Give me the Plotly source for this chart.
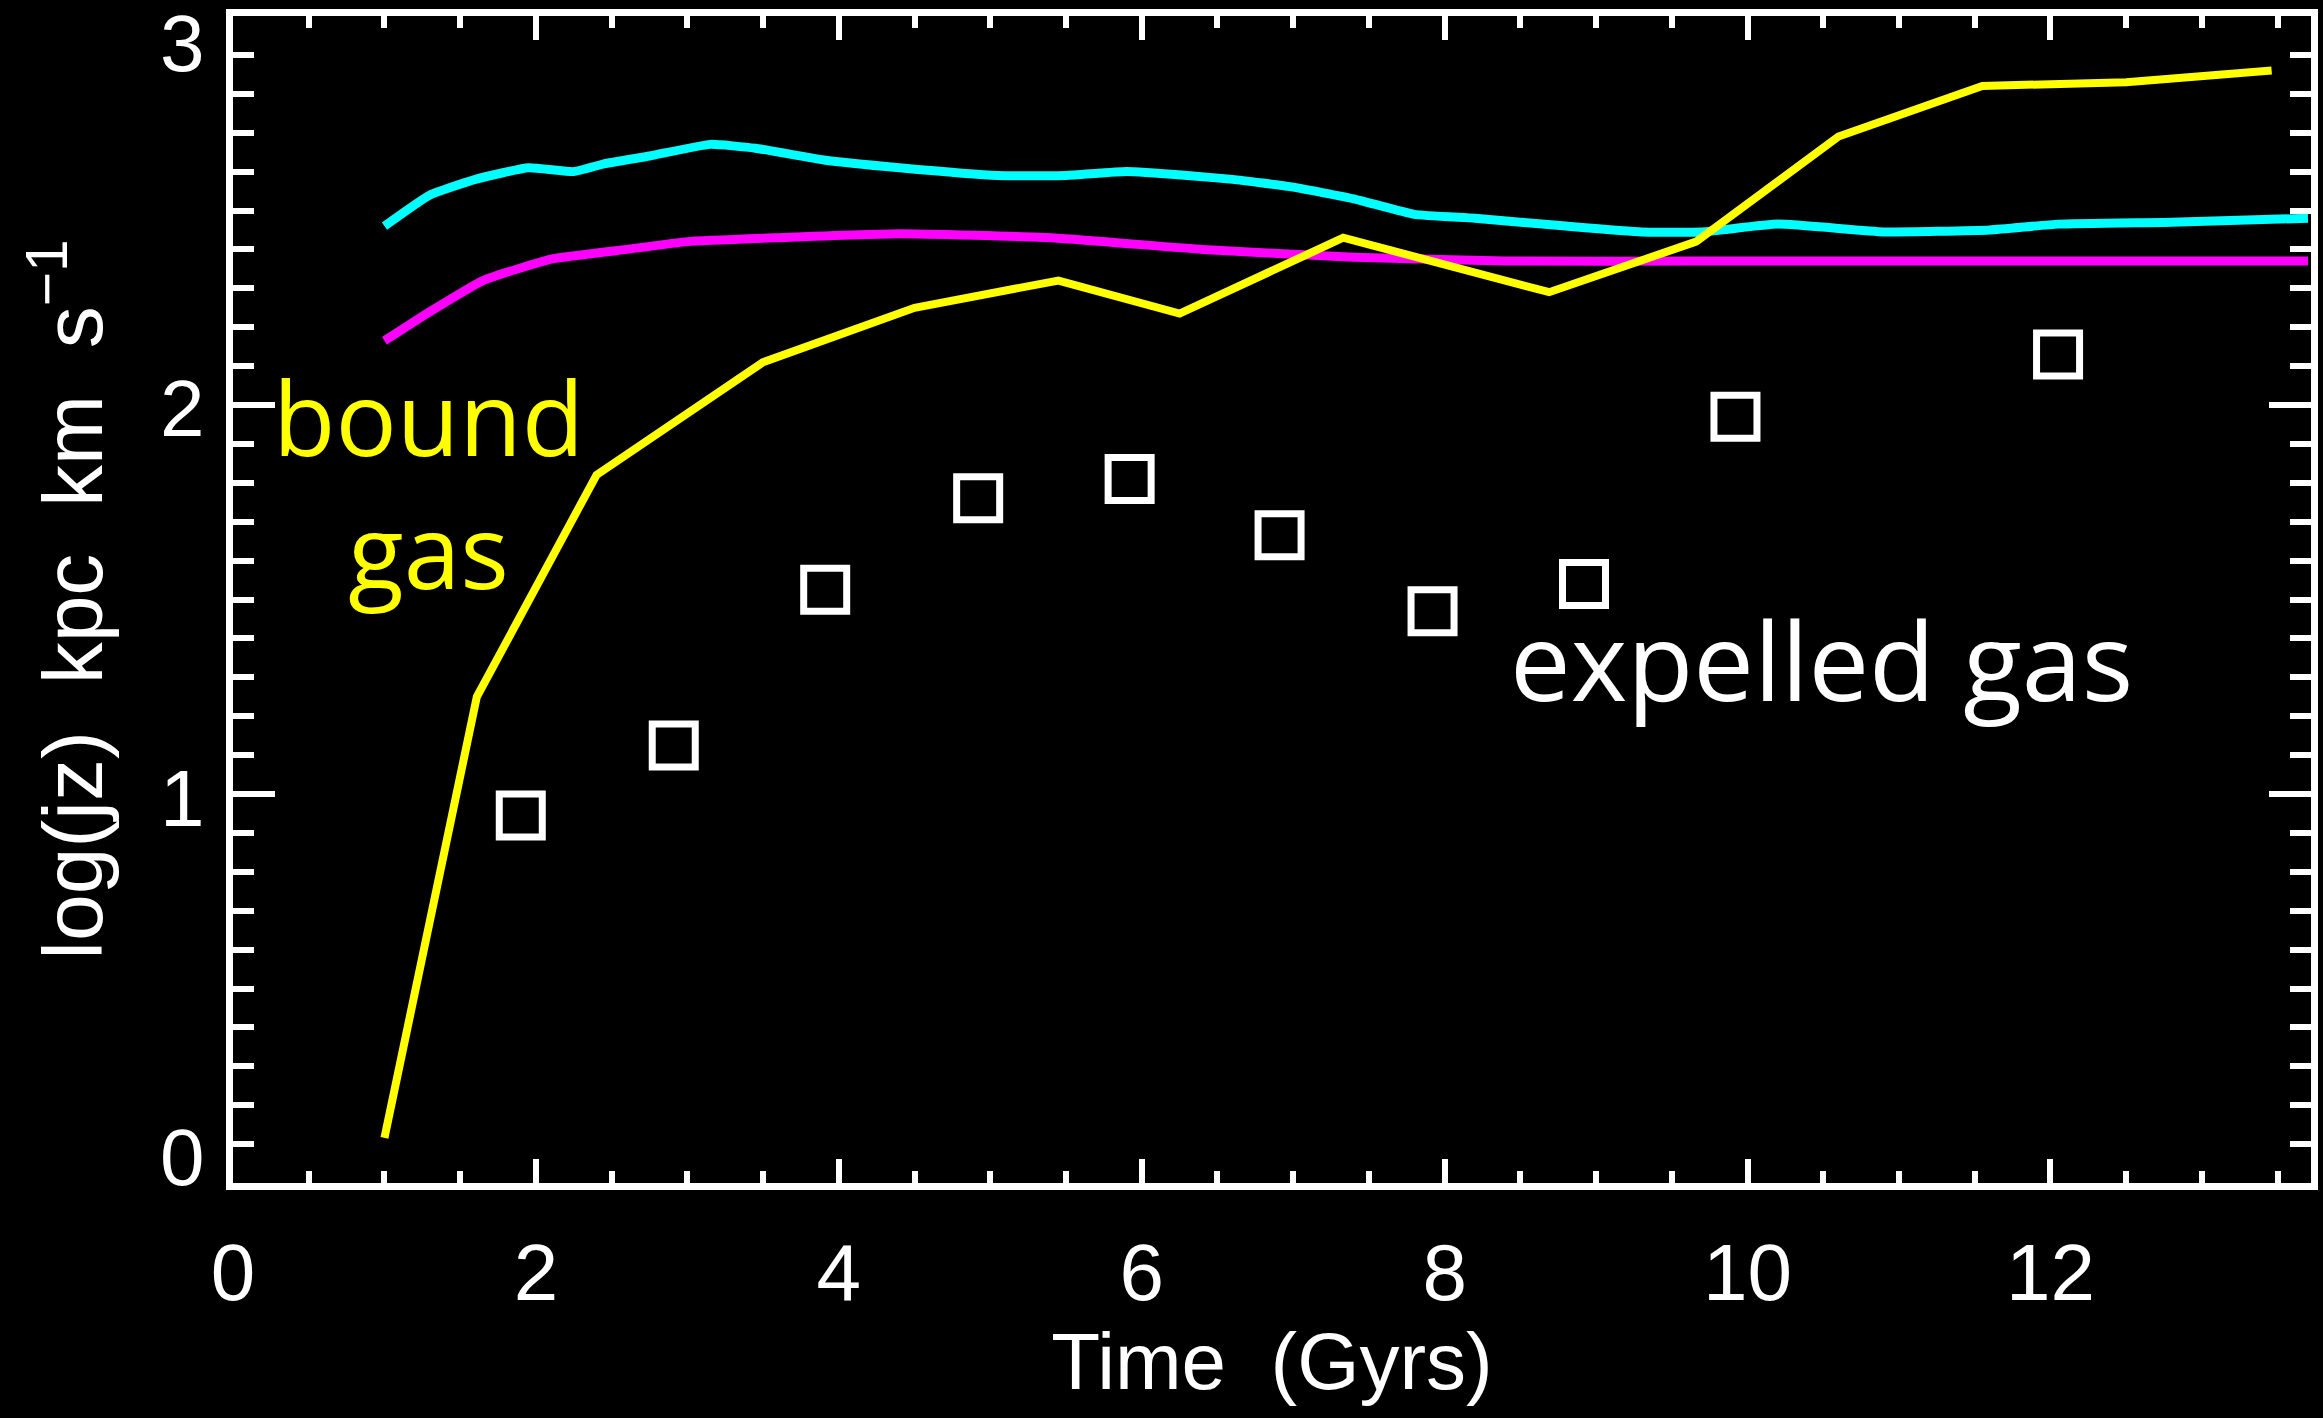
import plotly.graph_objects as go

# Specific angular momentum, log10(j_z) in kpc km/s, versus cosmic time (Gyr)

# Cyan curve
cyan_t = [1.0, 1.3, 1.6, 1.95, 2.25, 2.45, 2.75, 3.15, 3.45, 3.9, 4.4, 5.05, 5.5,
          5.9, 6.3, 6.6, 7.0, 7.4, 7.8, 8.2, 8.8, 9.3, 9.7, 10.2, 10.9, 11.6,
          12.05, 12.8, 13.7]
cyan_jz = [2.46, 2.54, 2.58, 2.61, 2.60, 2.62, 2.64, 2.67, 2.66, 2.63, 2.61, 2.59,
           2.59, 2.60, 2.59, 2.58, 2.56, 2.53, 2.49, 2.48, 2.46, 2.445, 2.445,
           2.465, 2.445, 2.45, 2.465, 2.47, 2.48]

# Magenta curve
magenta_t = [1.0, 1.3, 1.65, 2.1, 2.6, 3.0, 3.6, 4.4, 5.4, 6.4, 7.4, 8.4, 9.7,
             11.0, 12.5, 13.7]
magenta_jz = [2.165, 2.24, 2.32, 2.375, 2.40, 2.42, 2.43, 2.44, 2.43, 2.40, 2.38,
              2.37, 2.37, 2.37, 2.37, 2.37]

# Bound gas (yellow)
bound_t = [1.0, 1.61, 2.4, 3.5, 4.5, 5.45, 6.25, 7.33, 8.69, 9.66, 10.6, 11.55,
           12.5, 13.46]
bound_jz = [0.116, 1.25, 1.82, 2.11, 2.25, 2.32, 2.235, 2.43, 2.29, 2.42, 2.69,
            2.82, 2.83, 2.86]

# Expelled gas (open squares)
expelled_t = [1.9, 2.91, 3.91, 4.92, 5.92, 6.91, 7.92, 8.92, 9.92, 12.05]
expelled_jz = [0.945, 1.125, 1.525, 1.76, 1.81, 1.665, 1.47, 1.54, 1.97, 2.13]

x_ticks = [0, 2, 4, 6, 8, 10, 12]
y_ticks = [0, 1, 2, 3]

AXIS_FONT = "Liberation Sans, Arial, sans-serif"
LABEL_FONT = "Open Sans, Noto Sans, sans-serif"
WHITE = "white"

fig = go.Figure()

fig.add_trace(go.Scatter(x=cyan_t, y=cyan_jz, mode="lines",
                         line=dict(color="#00FFFF", width=9, shape="spline", smoothing=0.4)))
fig.add_trace(go.Scatter(x=magenta_t, y=magenta_jz, mode="lines",
                         line=dict(color="#FF00FF", width=9, shape="spline", smoothing=0.4)))
fig.add_trace(go.Scatter(x=bound_t, y=bound_jz, mode="lines",
                         line=dict(color="#FFFF00", width=8)))
fig.add_trace(go.Scatter(x=expelled_t, y=expelled_jz, mode="markers",
                         marker=dict(symbol="square-open", size=43, color=WHITE,
                                     line=dict(width=7, color=WHITE))))

# In-plot labels
fig.add_annotation(x=1.29, y=1.80, xref="x", yref="y", text="bound<br>gas",
                   showarrow=False, xanchor="center", yanchor="middle",
                   font=dict(family=LABEL_FONT, size=102, color="#FFFF00"))
fig.add_annotation(x=10.49, y=1.345, xref="x", yref="y", text="expelled gas",
                   showarrow=False, xanchor="center", yanchor="middle",
                   font=dict(family=LABEL_FONT, size=108, color=WHITE))

# y tick labels, with the end labels nudged inside the frame
y_label_shift = {0: 26, 1: -4, 2: -3, 3: -27}
for v in y_ticks:
    fig.add_annotation(x=0, y=v, xref="paper", yref="y", text=str(v),
                       showarrow=False, xanchor="right", yanchor="middle",
                       xshift=-26, yshift=y_label_shift[v],
                       font=dict(family=AXIS_FONT, size=80, color=WHITE))

axis_common = dict(
    showgrid=False, zeroline=False, showline=True, linecolor=WHITE, linewidth=7,
    mirror="ticks", ticks="inside", tickcolor=WHITE, tickwidth=6,
    tickfont=dict(family=AXIS_FONT, size=80, color=WHITE),
)

fig.update_xaxes(
    range=[0, 13.72], tickvals=x_ticks, ticktext=[str(v) for v in x_ticks],
    ticklen=24, ticklabelstandoff=14,
    minor=dict(dtick=0.5, tick0=0, ticks="inside", ticklen=12, tickwidth=6,
               tickcolor=WHITE, showgrid=False),
    title=dict(text="Time\u00a0 (Gyrs)", standoff=8,
               font=dict(family=AXIS_FONT, size=80, color=WHITE)),
    **axis_common,
)
fig.update_yaxes(
    range=[0, 3], tickvals=y_ticks, showticklabels=False,
    ticklen=42,
    minor=dict(dtick=0.1, tick0=0, ticks="inside", ticklen=21, tickwidth=6,
               tickcolor=WHITE, showgrid=False),
    title=dict(text="log(jz)\u00a0 kpc\u00a0 km\u00a0 s<sup>\u22121</sup>", standoff=98,
               font=dict(family=AXIS_FONT, size=84, color=WHITE)),
    **axis_common,
)

fig.update_layout(
    width=2323, height=1418,
    margin=dict(l=233, r=12, t=16, b=235, autoexpand=False),
    paper_bgcolor="black", plot_bgcolor="black",
    showlegend=False,
)

fig.write_html("out.html")
